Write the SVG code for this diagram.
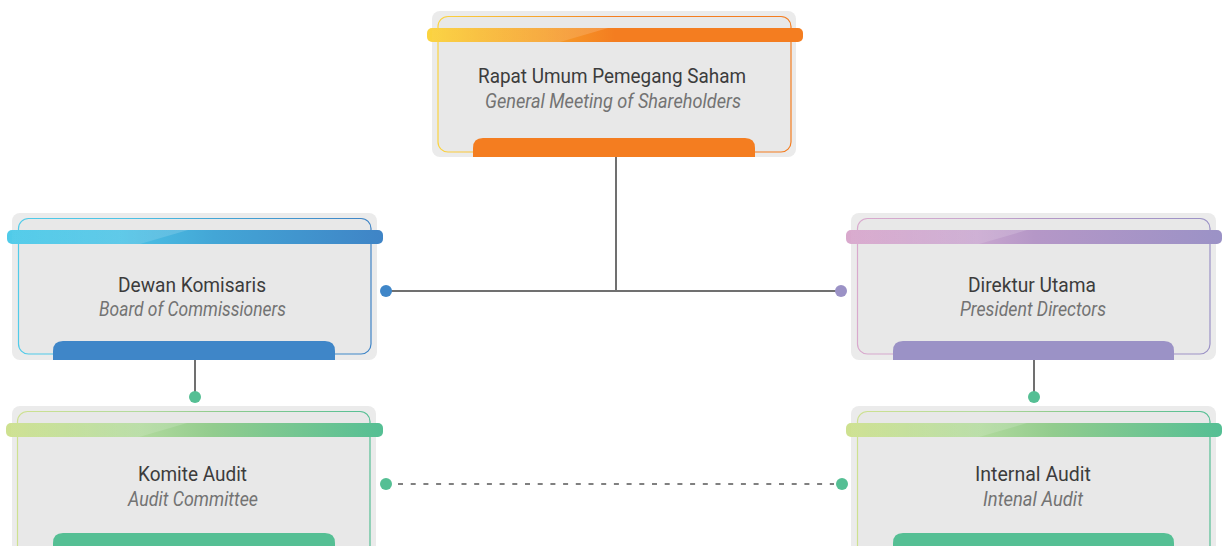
<svg xmlns="http://www.w3.org/2000/svg" width="1222" height="546" viewBox="0 0 1222 546">
<defs>
<linearGradient id="gOrange" x1="0" x2="1" y1="0" y2="0"><stop offset="0" stop-color="#fbd440"/><stop offset="0.3" stop-color="#f6a22b"/><stop offset="0.5" stop-color="#f47d20"/><stop offset="1" stop-color="#f47d20"/></linearGradient>
<linearGradient id="gBlue" x1="0" x2="1" y1="0" y2="0"><stop offset="0" stop-color="#50cbe9"/><stop offset="0.3" stop-color="#4cc3e6"/><stop offset="0.55" stop-color="#43a6d6"/><stop offset="1" stop-color="#3f84c6"/></linearGradient>
<linearGradient id="gPurple" x1="0" x2="1" y1="0" y2="0"><stop offset="0" stop-color="#d9a9cd"/><stop offset="0.35" stop-color="#c8a6cf"/><stop offset="0.5" stop-color="#b597c7"/><stop offset="1" stop-color="#9b92c6"/></linearGradient>
<linearGradient id="gGreen" x1="0" x2="1" y1="0" y2="0"><stop offset="0" stop-color="#cee190"/><stop offset="0.35" stop-color="#b2da9d"/><stop offset="0.55" stop-color="#92cc8e"/><stop offset="1" stop-color="#55bf94"/></linearGradient>
<linearGradient id="gloss" x1="0" x2="1" y1="0" y2="0"><stop offset="0" stop-color="#ffffff" stop-opacity="0.03"/><stop offset="1" stop-color="#ffffff" stop-opacity="0.16"/></linearGradient>
</defs>
<style>
.outer{fill:#ebebeb}
.inner{fill:#e8e8e8;stroke-width:1.2}
.t1{font-family:Roboto,"Liberation Sans",sans-serif;font-size:21px;fill:#3c3c3c;text-anchor:middle}
.t2{font-family:Roboto,"Liberation Sans",sans-serif;font-size:21px;font-style:italic;fill:#737373;text-anchor:middle}
.line{stroke:#707070;stroke-width:2;fill:none}
.dash{stroke:#808080;stroke-width:2;fill:none;stroke-dasharray:5 7.7}
</style>

<g id="connectors">
<path class="line" d="M616 157 V291 M386 291 H841"/>
<path class="line" d="M195 360 V397"/>
<path class="line" d="M1034 360 V397"/>
<path class="dash" d="M398 484 H834"/>
<circle cx="386" cy="291" r="6" fill="#3f86c8"/>
<circle cx="841" cy="291" r="6" fill="#9b92c6"/>
<circle cx="195" cy="397" r="6" fill="#55bf94"/>
<circle cx="1034" cy="397" r="6" fill="#55bf94"/>
<circle cx="386" cy="484" r="6" fill="#55bf94"/>
<circle cx="842" cy="484" r="6" fill="#55bf94"/>
</g>

<g id="node-rups">
<rect class="outer" x="432" y="11" width="364" height="146" rx="8"/>
<rect class="inner" x="438" y="16.5" width="353" height="135.5" rx="10" stroke="url(#gOrange)"/>
<path d="M473 157 V148 Q473 138 483 138 H745 Q755 138 755 148 V157 Z" fill="#f47d20"/>
<rect x="427" y="28" width="376" height="14" rx="5" fill="url(#gOrange)"/>
<path d="M432 28 H608 L560 42 H432 Z" fill="url(#gloss)"/>
<text class="t1" x="612" y="83" textLength="268" lengthAdjust="spacingAndGlyphs">Rapat Umum Pemegang Saham</text>
<text class="t2" x="613" y="108" textLength="256" lengthAdjust="spacingAndGlyphs">General Meeting of Shareholders</text>
</g>

<g id="node-dekom">
<rect class="outer" x="12" y="213" width="365" height="147" rx="8"/>
<rect class="inner" x="18.5" y="218.5" width="352.5" height="135.5" rx="10" stroke="url(#gBlue)"/>
<path d="M53 360 V351 Q53 341 63 341 H325 Q335 341 335 351 V360 Z" fill="#3f86c8"/>
<rect x="7" y="230" width="376" height="14" rx="5" fill="url(#gBlue)"/>
<path d="M12 230 H188 L140 244 H12 Z" fill="url(#gloss)"/>
<text class="t1" x="192" y="292" textLength="148" lengthAdjust="spacingAndGlyphs">Dewan Komisaris</text>
<text class="t2" x="192.5" y="316" textLength="187" lengthAdjust="spacingAndGlyphs">Board of Commissioners</text>
</g>

<g id="node-dirut">
<rect class="outer" x="851" y="213" width="365" height="147" rx="8"/>
<rect class="inner" x="857.5" y="218.5" width="352.5" height="135.5" rx="10" stroke="url(#gPurple)"/>
<path d="M893 360 V351 Q893 341 903 341 H1164 Q1174 341 1174 351 V360 Z" fill="#9b92c6"/>
<rect x="846" y="230" width="376" height="14" rx="5" fill="url(#gPurple)"/>
<path d="M851 230 H1027 L979 244 H851 Z" fill="url(#gloss)"/>
<text class="t1" x="1032" y="292" textLength="128" lengthAdjust="spacingAndGlyphs">Direktur Utama</text>
<text class="t2" x="1033" y="316" textLength="146" lengthAdjust="spacingAndGlyphs">President Directors</text>
</g>

<g id="node-komite">
<rect class="outer" x="12" y="406" width="364" height="160" rx="8"/>
<rect class="inner" x="17.5" y="411.5" width="352.5" height="150" rx="10" stroke="url(#gGreen)"/>
<path d="M53 560 V543 Q53 533 63 533 H325 Q335 533 335 543 V560 Z" fill="#55bf94"/>
<rect x="6" y="423" width="377" height="14" rx="5" fill="url(#gGreen)"/>
<path d="M11 423 H187 L139 437 H11 Z" fill="url(#gloss)"/>
<text class="t1" x="192.5" y="481" textLength="109" lengthAdjust="spacingAndGlyphs">Komite Audit</text>
<text class="t2" x="193" y="506" textLength="130" lengthAdjust="spacingAndGlyphs">Audit Committee</text>
</g>

<g id="node-internal">
<rect class="outer" x="851" y="406" width="365" height="160" rx="8"/>
<rect class="inner" x="857.5" y="411.5" width="352.5" height="150" rx="10" stroke="url(#gGreen)"/>
<path d="M893 560 V543 Q893 533 903 533 H1164 Q1174 533 1174 543 V560 Z" fill="#55bf94"/>
<rect x="846" y="423" width="376" height="14" rx="5" fill="url(#gGreen)"/>
<path d="M851 423 H1027 L979 437 H851 Z" fill="url(#gloss)"/>
<text class="t1" x="1033" y="481" textLength="116" lengthAdjust="spacingAndGlyphs">Internal Audit</text>
<text class="t2" x="1033" y="506" textLength="100" lengthAdjust="spacingAndGlyphs">Intenal Audit</text>
</g>
</svg>
